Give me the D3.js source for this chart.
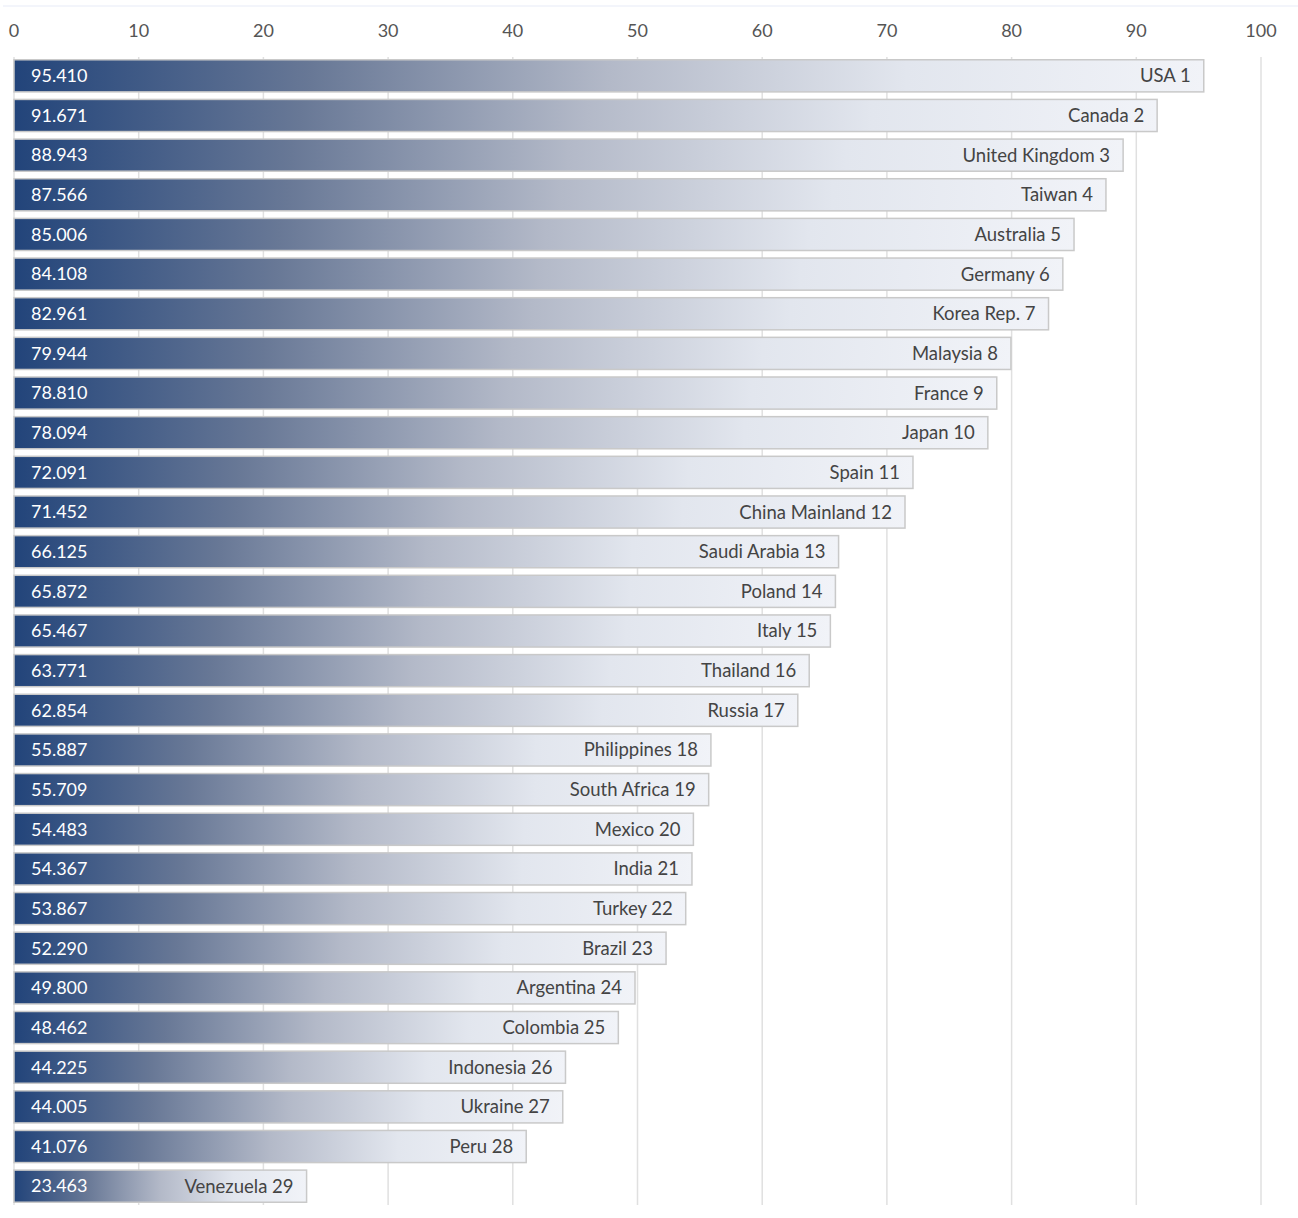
<!DOCTYPE html>
<html><head><meta charset="utf-8">
<script src="https://cdn.jsdelivr.net/npm/d3@7"></script>
<style>
html,body{margin:0;padding:0;background:#fff;}
text{font-family:Lato,"Open Sans",sans-serif;}
</style></head>
<body>
<svg id="chart" width="1298" height="1218"></svg>
<script>
const countries = ["USA","Canada","United Kingdom","Taiwan","Australia","Germany","Korea Rep.","Malaysia","France","Japan","Spain","China Mainland","Saudi Arabia","Poland","Italy","Thailand","Russia","Philippines","South Africa","Mexico","India","Turkey","Brazil","Argentina","Colombia","Indonesia","Ukraine","Peru","Venezuela"];
const ranks = [1,2,3,4,5,6,7,8,9,10,11,12,13,14,15,16,17,18,19,20,21,22,23,24,25,26,27,28,29];
const values = [95.410,91.671,88.943,87.566,85.006,84.108,82.961,79.944,78.810,78.094,72.091,71.452,66.125,65.872,65.467,63.771,62.854,55.887,55.709,54.483,54.367,53.867,52.290,49.800,48.462,44.225,44.005,41.076,23.463];
const tickValues = [0,10,20,30,40,50,60,70,80,90,100];

const svg = d3.select("#chart");
const x = d3.scaleLinear().domain([0,100]).range([14,1261]);
const y = d3.scaleBand().domain(countries).range([56,1206]).paddingInner(0.19).paddingOuter(0.095);

const defs = svg.append("defs");
const grad = defs.append("linearGradient").attr("id","barGrad").attr("x1","0%").attr("x2","100%").attr("y1","0%").attr("y2","0%");
[[0,"#22447a"],[0.25,"#687896"],[0.5,"#b3b9c8"],[0.75,"#e2e6ee"],[1,"#f1f3f8"]].forEach(s=>{
  grad.append("stop").attr("offset",s[0]).attr("stop-color",s[1]);
});

// faint top line
svg.append("line").attr("x1",3).attr("x2",1298).attr("y1",6).attr("y2",6).attr("stroke","#f3f5fb").attr("stroke-width",2);

// gridlines
svg.append("g").selectAll("line").data(tickValues).join("line")
  .attr("x1",d=>x(d)).attr("x2",d=>x(d)).attr("y1",57).attr("y2",1205)
  .attr("stroke","#e0e0e0").attr("stroke-width",1.5);

// tick labels
svg.append("g").selectAll("text").data(tickValues).join("text")
  .attr("x",d=>x(d)).attr("y",37).attr("text-anchor","middle")
  .attr("font-size",18).attr("fill","#555").text(d=>d);

const data = countries.map((c,i)=>({c,r:ranks[i],v:values[i]}));
const g = svg.append("g").selectAll("g").data(data).join("g");
g.append("rect")
  .attr("x",x(0)).attr("y",d=>y(d.c)).attr("width",d=>x(d.v)-x(0)).attr("height",y.bandwidth())
  .attr("fill","url(#barGrad)").attr("stroke","#c9c9c9").attr("stroke-width",1.5);
g.append("text")
  .attr("x",x(0)+17).attr("y",d=>y(d.c)+y.bandwidth()/2).attr("dy","0.35em")
  .attr("font-size",18).attr("fill","#fff").text(d=>d.v.toFixed(3));
g.append("text")
  .attr("x",d=>x(d.v)-13).attr("y",d=>y(d.c)+y.bandwidth()/2).attr("dy","0.35em")
  .attr("text-anchor","end").attr("font-size",18.5).attr("fill","#444").text(d=>d.c+" "+d.r);
</script>
</body></html>
